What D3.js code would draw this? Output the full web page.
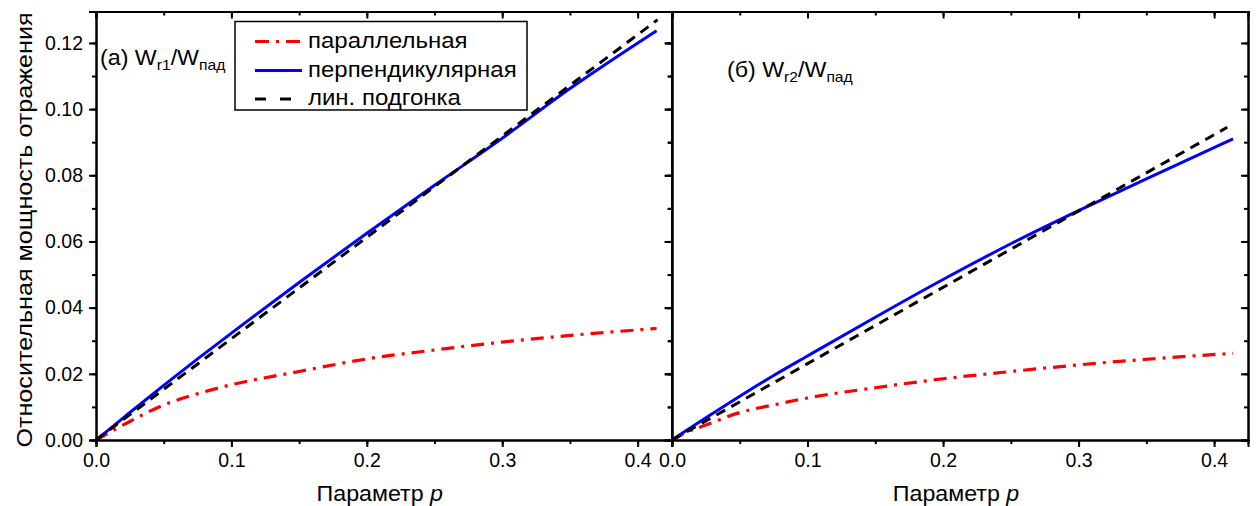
<!DOCTYPE html>
<html><head><meta charset="utf-8">
<script src="https://cdn.jsdelivr.net/npm/d3@7"></script>
<style>body{margin:0;background:#fff}svg text{font-family:"Liberation Sans",Arial,sans-serif}</style>
</head><body><svg id="c" width="1256" height="506"></svg>
<script>
// ---- data ----
const pValues = [0, 0.01, 0.025, 0.05, 0.075, 0.1, 0.15, 0.2, 0.25, 0.3, 0.35, 0.414];
const parA = [0, 0.0023, 0.0056, 0.0106, 0.0140, 0.0167, 0.0207, 0.0245, 0.0272, 0.0296, 0.0316, 0.0337];
const perpA = [0, 0.0033, 0.0083, 0.0165, 0.0245, 0.0323, 0.0476, 0.0625, 0.0770, 0.0912, 0.1062, 0.1237];
const fitAp = [0, 0.4147];
const fitA = [0, 0.1270];
const parB = [0, 0.0022, 0.0045, 0.0083, 0.0106, 0.0127, 0.0158, 0.0185, 0.0207, 0.0227, 0.0244, 0.0262];
const perpB = [0, 0.0027, 0.0067, 0.0132, 0.0195, 0.0254, 0.0371, 0.0485, 0.0593, 0.0693, 0.0789, 0.0910];
const fitBp = [0, 0.4097];
const fitB = [0, 0.0945];
const xTicks = [0, 0.1, 0.2, 0.3, 0.4];
const yTicks = [0, 0.02, 0.04, 0.06, 0.08, 0.10, 0.12];
const legendLabels = ["параллельная", "перпендикулярная", "лин. подгонка"];
const yTitle = "Относительная мощность отражения";
const xTitle = "Параметр ";

(function () {
const svg = d3.select("#c");
const yTop = 11.5, yBot = 440;
const y = d3.scaleLinear().domain([0, 0.1295]).range([yBot, yTop]);
const panels = [
  {x0: 96, x1: 671.5, par: parA, perp: perpA, fp: fitAp, fv: fitA, yLabels: true},
  {x0: 672, x1: 1248, par: parB, perp: perpB, fp: fitBp, fv: fitB, yLabels: false}
];
const styles = {
  par: {stroke: "#ff0000", width: 3.2, dash: "13,7,3,7"},
  perp: {stroke: "#0000ff", width: 3, dash: null},
  fit: {stroke: "#000000", width: 3, dash: "10,7"}
};
const xMinor = d3.range(0, 0.4251, 0.05);
const yMinor = d3.range(0, 0.1291, 0.01);

panels.forEach((P, i) => {
  const x = d3.scaleLinear().domain([0, 0.425]).range([P.x0, P.x1]);
  const g = svg.append("g");
  const line = d3.line().x(d => x(d[0])).y(d => y(d[1])).curve(d3.curveMonotoneX);
  function draw(px, vals, st) {
    g.append("path").datum(px.map((p, k) => [p, vals[k]]))
      .attr("d", line).attr("fill", "none").attr("stroke", st.stroke)
      .attr("stroke-width", st.width).attr("stroke-dasharray", st.dash)
      .attr("stroke-linejoin", "round");
  }
  draw(pValues, P.par, styles.par);
  draw(pValues, P.perp, styles.perp);
  draw(P.fp, P.fv, styles.fit);

  svg.append("g").attr("transform", `translate(0,${yBot})`)
    .call(d3.axisBottom(x).tickValues(xTicks).tickFormat(d3.format(".1f")).tickSize(7).tickPadding(6));
  svg.append("g").attr("transform", `translate(0,${yBot})`).call(d3.axisBottom(x).tickValues(xMinor).tickFormat("").tickSize(4));
  svg.append("g").attr("transform", `translate(0,${yTop})`).call(d3.axisTop(x).tickValues(xTicks).tickFormat("").tickSize(-7));
  svg.append("g").attr("transform", `translate(0,${yTop})`).call(d3.axisTop(x).tickValues(xMinor).tickFormat("").tickSize(-4));
  svg.append("g").attr("transform", `translate(${P.x0},0)`)
    .call(d3.axisLeft(y).tickValues(yTicks).tickFormat(P.yLabels ? d3.format(".2f") : "").tickSize(7).tickPadding(6));
  svg.append("g").attr("transform", `translate(${P.x0},0)`).call(d3.axisLeft(y).tickValues(yMinor).tickFormat("").tickSize(4));
  svg.append("g").attr("transform", `translate(${P.x1},0)`).call(d3.axisRight(y).tickValues(yTicks).tickFormat("").tickSize(-7));
  svg.append("g").attr("transform", `translate(${P.x1},0)`).call(d3.axisRight(y).tickValues(yMinor).tickFormat("").tickSize(-4));

  const xt = svg.append("text").attr("transform", `translate(${(P.x0 + P.x1) / 2 - 4},501) scale(1.08,1)`)
    .attr("text-anchor", "middle").attr("font-size", 21.5).attr("fill", "#000");
  xt.append("tspan").text(xTitle);
  xt.append("tspan").attr("font-style", "italic").text("p");
});
svg.selectAll(".domain").attr("stroke", "#000").attr("stroke-width", 2);
svg.selectAll(".tick line").attr("stroke", "#000").attr("stroke-width", 2);
svg.selectAll(".tick text").attr("font-size", 19.5).attr("fill", "#000").style("font-family", '"Liberation Sans",Arial,sans-serif');

function panelLabel(xp, yp, pre, sub) {
  const t = svg.append("text").attr("transform", `translate(${xp},${yp}) scale(1.08,1)`).attr("font-size", 21.5).attr("fill", "#000");
  t.append("tspan").text(pre + " W");
  t.append("tspan").attr("font-size", 14.5).attr("dy", 5).text(sub);
  t.append("tspan").attr("dy", -5).text("/W");
  t.append("tspan").attr("font-size", 14.5).attr("dy", 5).text("пад");
}
panelLabel(100, 65, "(a)", "r1");
panelLabel(727, 77, "(б)", "r2");

svg.append("text").attr("transform", "translate(32,230) rotate(-90) scale(1.17,1)")
  .attr("text-anchor", "middle").attr("font-size", 21.5).attr("fill", "#000").text(yTitle);

const lg = svg.append("g");
lg.append("rect").attr("x", 235).attr("y", 21.5).attr("width", 292).attr("height", 88.5)
  .attr("fill", "#fff").attr("stroke", "#000").attr("stroke-width", 1.5);
const legStyles = [styles.par, styles.perp, styles.fit];
const legY = [41.5, 70.5, 99];
legendLabels.forEach((lab, k) => {
  const st = legStyles[k];
  lg.append("line").attr("x1", 255).attr("x2", 302).attr("y1", legY[k]).attr("y2", legY[k])
    .attr("stroke", st.stroke).attr("stroke-width", st.width).attr("stroke-dasharray", k === 0 ? "14,7,3,7" : (k === 2 ? "11,14" : null));
  lg.append("text").attr("transform", `translate(308,${legY[k] + 6}) scale(1.09,1)`)
    .attr("font-size", 22).attr("fill", "#000").text(lab);
});
})();
</script></body></html>
